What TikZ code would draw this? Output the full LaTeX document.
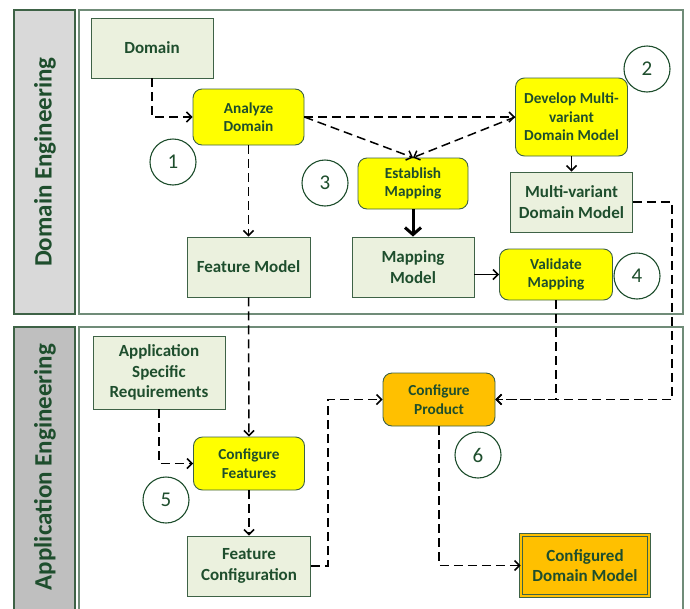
\documentclass[tikz,border=0pt]{standalone}
\usepackage{fontspec}
\setmainfont{Carlito}
\usetikzlibrary{arrows.meta}
\definecolor{txtgreen}{RGB}{30,78,45}
\definecolor{edgegreen}{RGB}{62,98,70}
\definecolor{lanegreen}{RGB}{112,140,120}
\definecolor{boxfill}{RGB}{235,241,222}
\definecolor{taskyellow}{RGB}{255,255,0}
\definecolor{prodorange}{RGB}{255,192,0}
\definecolor{laneA}{RGB}{217,217,217}
\definecolor{laneB}{RGB}{191,191,191}
\tikzset{
  artifact/.style={draw=edgegreen, line width=0.9pt, fill=boxfill, text=txtgreen,
    font=\bfseries\fontsize{17}{20.5}\selectfont, align=center, inner sep=0pt},
  task/.style={draw=edgegreen, line width=0.9pt, fill=taskyellow, text=txtgreen,
    rounded corners=9pt, font=\bfseries\fontsize{15.3}{18.5}\selectfont, align=center, inner sep=0pt},
  prodtask/.style={task, fill=prodorange},
  result/.style={draw=edgegreen, line width=0.8pt, double=prodorange, double distance=2.2pt,
    fill=prodorange, text=txtgreen, font=\bfseries\fontsize{17}{20.5}\selectfont,
    align=center, inner sep=0pt},
  stepnum/.style={circle, draw=txtgreen, line width=1.1pt, minimum size=46pt, inner sep=0pt,
    text=txtgreen, font=\fontsize{21}{24}\selectfont},
  lanelabel/.style={draw=edgegreen, line width=1.3pt},
  lanebody/.style={draw=lanegreen, line width=1.3pt, fill=white},
  lanetitle/.style={rotate=90, text=txtgreen, font=\bfseries\fontsize{25}{28}\selectfont},
  flow/.style={draw=black, line width=1.5pt, dash pattern=on 9pt off 5pt,
    -{Straight Barb[length=5pt,width=10pt]}},
  solidflow/.style={draw=black, line width=1.5pt, -{Straight Barb[length=5pt,width=10pt]}},
  thickflow/.style={draw=black, line width=3pt, -{Straight Barb[length=7pt,width=16pt]}}
}
\begin{document}
\begin{tikzpicture}[x=1pt, y=-1pt]
\useasboundingbox (0,0) rectangle (690,608);
\clip (0,0) rectangle (690,608);

% swimlanes
\draw[lanelabel, fill=laneA] (14,10) rectangle (75,314);
\draw[lanebody] (79,10) rectangle (683,314);
\draw[lanelabel, fill=laneB] (14,327) rectangle (75,615);
\draw[lanebody] (79,327) rectangle (683,615);
\node[lanetitle] (ltop) at (45,162) {Domain Engineering};
\node[lanetitle] (lbot) at (45,467) {Application Engineering};

% domain engineering
\node[artifact, minimum width=122pt, minimum height=60pt] (dom) at (152,48) {Domain};
\node[task, minimum width=111pt, minimum height=56pt] (ana) at (248.5,117) {Analyze\\Domain};
\node[artifact, minimum width=123pt, minimum height=60pt] (fm) at (248.5,267) {Feature Model};
\node[task, minimum width=110pt, minimum height=51pt] (est) at (413,183.5) {Establish\\Mapping};
\node[artifact, minimum width=122pt, minimum height=60pt] (mm) at (413,267) {Mapping\\Model};
\node[task, minimum width=112pt, minimum height=78pt] (dev) at (571.5,117) {Develop Multi-\\variant\\Domain Model};
\node[artifact, minimum width=122pt, minimum height=60pt] (mv) at (571.5,202) {Multi-variant\\Domain Model};
\node[task, minimum width=113pt, minimum height=51pt] (val) at (556,274.5) {Validate\\Mapping};

% application engineering
\node[artifact, minimum width=132pt, minimum height=73pt] (asr) at (159,372.5) {Application\\Specific\\Requirements};
\node[task, minimum width=111pt, minimum height=53pt] (cf) at (249,463.5) {Configure\\Features};
\node[artifact, minimum width=123pt, minimum height=60pt] (fc) at (249,566) {Feature\\Configuration};
\node[prodtask, minimum width=112pt, minimum height=53pt] (cp) at (439,399.5) {Configure\\Product};
\node[result, minimum width=128pt, minimum height=61pt] (cdm) at (585,565.5) {Configured\\Domain Model};

% step numbers
\node[stepnum] (n1) at (173,162) {1};
\node[stepnum] (n2) at (647,69) {2};
\node[stepnum] (n3) at (325,183) {3};
\node[stepnum] (n4) at (637,276) {4};
\node[stepnum] (n5) at (166,500) {5};
\node[stepnum] (n6) at (478,455) {6};

% rails for the long connectors
\coordinate (rightrail) at (672,300);
\coordinate (leftrail) at (328,480);

% connectors
\draw[flow] (dom.south) |- (ana.west);
\draw[flow] (ana.east) -- (dev.west);
\draw[flow] (ana.east) -- (est.north);
\draw[flow] (dev.west) -- (est.north);
\draw[flow] (ana.south) -- (fm.north);
\draw[thickflow] (est.south) -- (mm.north);
\draw[solidflow] (dev.south) -- (mv.north);
\draw[solidflow] (mm.east |- val.west) -- (val.west);
\draw[flow] (mv.east) -| (rightrail) |- (cp.east);
\draw[flow] (val.south) |- (cp.east);
\draw[flow] (fm.south) -- (cf.north);
\draw[flow] (asr.south) |- (cf.west);
\draw[flow] (cf.south) -- (fc.north);
\draw[flow] (fc.east) -| (leftrail) |- (cp.west);
\draw[flow] (cp.south) |- (cdm.west);
\end{tikzpicture}
\end{document}
